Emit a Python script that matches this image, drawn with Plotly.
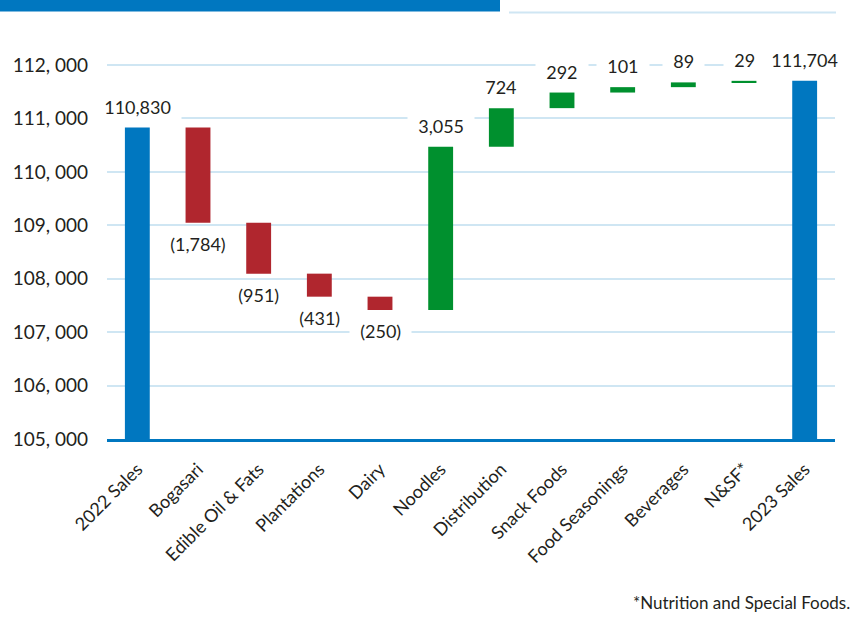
import plotly.graph_objects as go

categories = ["2022 Sales", "Bogasari", "Edible Oil & Fats", "Plantations", "Dairy",
              "Noodles", "Distribution", "Snack Foods", "Food Seasonings",
              "Beverages", "N&SF*", "2023 Sales"]
values = [110830, -1784, -951, -431, -250, 3055, 724, 292, 101, 89, 29, 111704]
measures = ["absolute"] + ["relative"] * 10 + ["total"]
labels = ["110,830", "(1,784)", "(951)", "(431)", "(250)", "3,055", "724", "292",
          "101", "89", "29", "111,704"]
y_ticks = [105000, 106000, 107000, 108000, 109000, 110000, 111000, 112000]
y_ticktext = ["105, 000", "106, 000", "107, 000", "108, 000", "109, 000",
              "110, 000", "111, 000", "112, 000"]

BLUE = "#0077C0"
RED = "#B0262E"
GREEN = "#00902E"
GRID = "#CFE6F3"
TXT = "#231F20"
FONT = "Lato"
PAD = "&nbsp;&nbsp;"

fig = go.Figure(go.Waterfall(
    x=categories, y=values, measure=measures,
    connector=dict(visible=False),
    increasing=dict(marker=dict(color=GREEN)),
    decreasing=dict(marker=dict(color=RED)),
    totals=dict(marker=dict(color=BLUE)),
    textposition="none", width=0.41, hoverinfo="skip",
))

# label annotations positioned from running totals
annotations = []
running = 0
for cat, v, m, lab in zip(categories, values, measures, labels):
    if m == "absolute":
        start, end = 0, v
        running = v
    elif m == "total":
        start, end = 0, running
    else:
        start, end = running, running + v
        running = end
    if m != "relative" or v >= 0:
        annotations.append(dict(x=cat, y=max(start, end), text=PAD + lab + PAD,
                                showarrow=False, yanchor="bottom", yshift=8,
                                bgcolor="white",
                                font=dict(size=18, color=TXT, family=FONT)))
    else:
        annotations.append(dict(x=cat, y=min(start, end), text=PAD + lab + PAD,
                                showarrow=False, yanchor="top", yshift=-8,
                                bgcolor="white",
                                font=dict(size=18, color=TXT, family=FONT)))

L, R, T, B = 107, 22, 49, 178
W, H = 857 - L - R, 617 - T - B
def px(x):
    return (x - L) / W
def py(y):
    return (617 - B - y) / H

annotations.append(dict(xref="paper", yref="paper", x=px(852), y=py(602),
                        xanchor="right", yanchor="middle", showarrow=False,
                        text="*Nutrition and Special Foods.",
                        font=dict(size=17, color=TXT, family=FONT)))

# header decorations (banner and rule), in paper coordinates
shapes = [
    dict(type="rect", xref="paper", yref="paper", x0=px(0), x1=px(500),
         y0=py(11.5), y1=py(-2), fillcolor=BLUE, line=dict(width=0), layer="above"),
    dict(type="line", xref="paper", yref="paper", x0=px(509), x1=px(836),
         y0=py(12.5), y1=py(12.5), line=dict(color=GRID, width=2)),
]

fig.update_layout(
    width=857, height=617,
    margin=dict(l=L, r=R, t=T, b=B, autoexpand=False),
    paper_bgcolor="white", plot_bgcolor="white",
    showlegend=False,
    font=dict(family=FONT, color=TXT),
    annotations=annotations,
    shapes=shapes,
)
fig.update_yaxes(range=[105000, 112300], tickvals=y_ticks, ticktext=y_ticktext,
                 showgrid=True, gridcolor=GRID, gridwidth=2, zeroline=False,
                 showline=False, tickfont=dict(size=19, color=TXT, family=FONT),
                 ticklabelstandoff=18, automargin=False)
fig.update_xaxes(showline=True, linecolor=BLUE, linewidth=2.5, showgrid=False,
                 range=[-0.5, len(categories) - 0.5],
                 tickangle=-45, tickfont=dict(size=18, color=TXT, family=FONT),
                 ticklabelstandoff=10, automargin=False)

fig.write_html("out.html", config={"displayModeBar": False},
               post_script="document.body.style.margin='0';document.body.style.overflow='hidden';")
